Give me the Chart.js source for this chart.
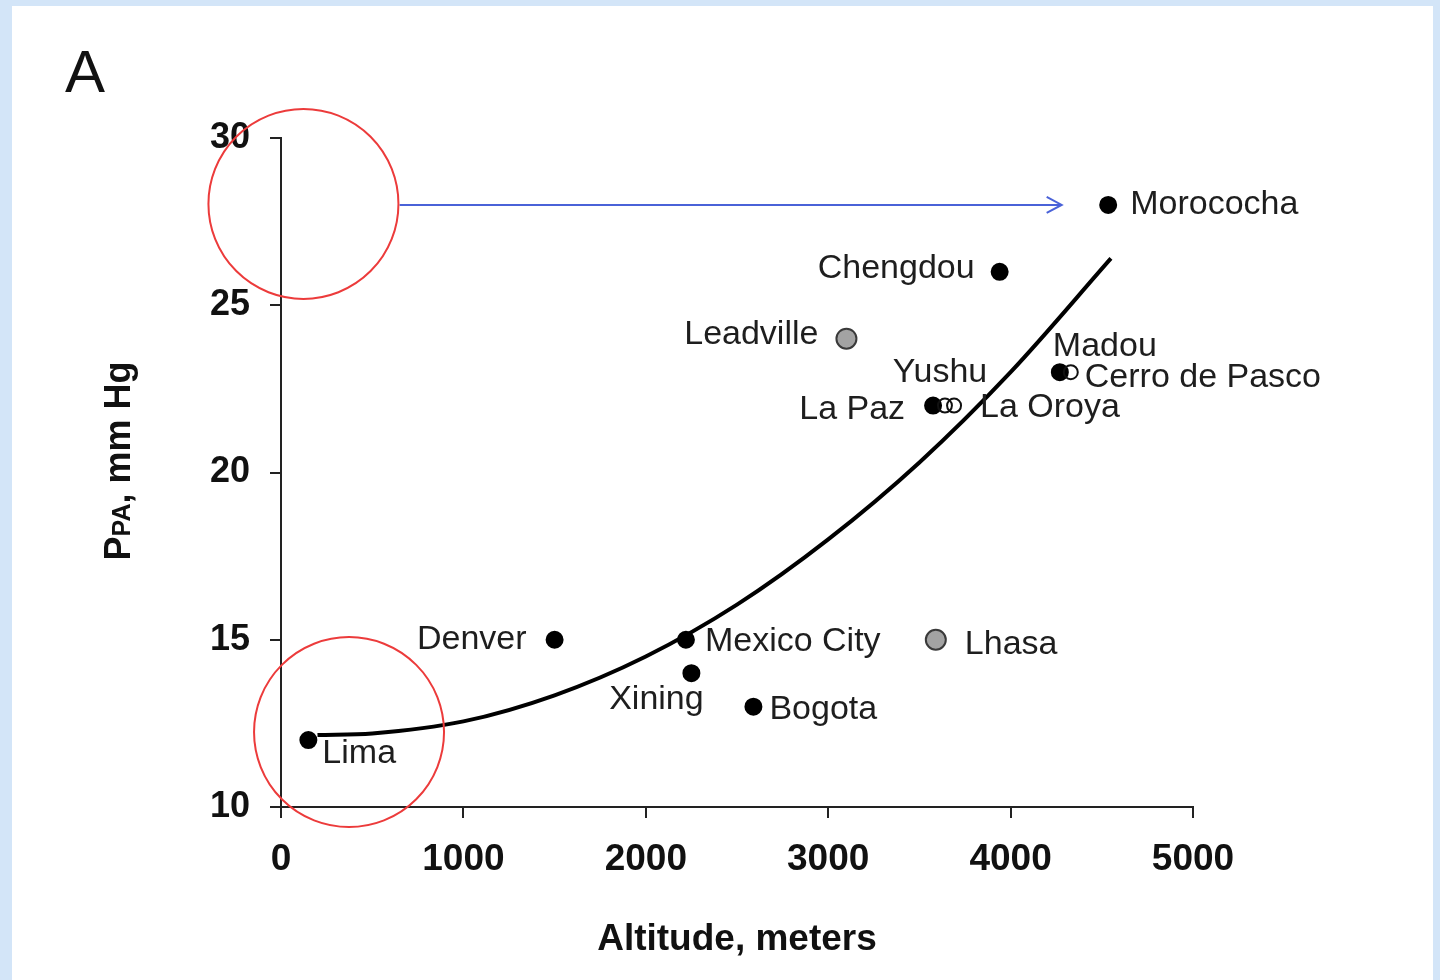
<!DOCTYPE html>
<html>
<head>
<meta charset="utf-8">
<script src="https://cdn.jsdelivr.net/npm/chart.js@4.4.1/dist/chart.umd.min.js"></script>
<style>
	html, body { margin: 0; padding: 0; background: #d3e5f8; }
	#frame { position: relative; width: 1440px; height: 980px; overflow: hidden; }
	#paper { position: absolute; left: 12px; top: 6px; width: 1421px; height: 980px; background: #fff; }
	#panel { position: absolute; left: 65px; top: 43px; font: 60px/58px "Liberation Sans", Arial, sans-serif; color: #111; }
	#wrap { position: absolute; left: 0; top: 0; width: 1440px; height: 980px; }
</style>
</head>
<body>
<div id="frame">
	<div id="paper"></div>
	<div id="panel">A</div>
	<div id="wrap"><canvas id="chart"></canvas></div>
</div>
<script>
// Values
var xTicks = [0, 1000, 2000, 3000, 4000, 5000];
var yTicks = [10, 15, 20, 25, 30];

var cityNames = ["Lima", "Denver", "Mexico City", "Xining", "Bogota", "Lhasa", "Leadville",
	"La Paz", "Yushu", "La Oroya", "Madou", "Cerro de Pasco", "Chengdou", "Morococha"];
var cityAltitude = [150, 1500, 2220, 2250, 2590, 3590, 3100, 3575, 3640, 3690, 4270, 4330, 3940, 4535];
var cityPPA = [12, 15, 15, 14, 13, 15, 24, 22, 22, 22, 23, 23, 26, 28];

// fitted curve, read at several altitudes
var fitAltitude = [200, 500, 1000, 1500, 2000, 2500, 3000, 3500, 4000, 4550];
var fitPPA = [12.15, 12.2, 12.56, 13.34, 14.5, 16.05, 18.0, 20.3, 23.0, 26.4];

// blue arrow towards Morococha
var arrowAltitude = [650, 4280];
var arrowPPA = [28, 28];

// red highlight circles
var circleAltitude = [123, 373];
var circlePPA = [28.03, 12.24];

// marker look per city (default is a black dot)
var markerStyle = { "Leadville": "gray", "Lhasa": "gray", "Yushu": "ring", "La Oroya": "ring", "Cerro de Pasco": "ring" };

// label placement relative to the point: dx, dy (px), alignment
var labelPlace = {
	"Lima": [14, 14, "left"],
	"Denver": [-28, 0, "right"],
	"Mexico City": [19, 2, "left"],
	"Xining": [-35, 26, "center"],
	"Bogota": [16, 3, "left"],
	"Lhasa": [29, 5, "left"],
	"Leadville": [-28, -4, "right"],
	"La Paz": [-28, 4, "right"],
	"Yushu": [-5, -33, "center"],
	"La Oroya": [26, 2, "left"],
	"Madou": [-7, -26, "left"],
	"Cerro de Pasco": [14, 5, "left"],
	"Chengdou": [-25, -3, "right"],
	"Morococha": [22, 0, "left"]
};

function pairs(xs, ys) {
	var out = [];
	for (var i = 0; i < xs.length; i++) out.push({ x: xs[i], y: ys[i] });
	return out;
}

var styleFill = { black: "#000", gray: "#a3a3a3", ring: "rgba(255,255,255,0)" };
var styleBorder = { black: "#000", gray: "#3a3a3a", ring: "#111" };
var styleRadius = { black: 8, gray: 10, ring: 7 };
function cityStyle(i) { return markerStyle[cityNames[i]] || "black"; }

var labelFont = '34px "Liberation Sans", Arial, sans-serif';

var annotations = {
	id: "annotations",
	afterDatasetsDraw: function(chart) {
		var ctx = chart.ctx;
		var xs = chart.scales.x, ys = chart.scales.y;

		// arrow head
		var ax = xs.getPixelForValue(arrowAltitude[1]);
		var ay = ys.getPixelForValue(arrowPPA[1]);
		ctx.save();
		ctx.strokeStyle = "#4a62d8";
		ctx.lineWidth = 2;
		ctx.beginPath();
		ctx.moveTo(ax - 15, ay - 8);
		ctx.lineTo(ax, ay);
		ctx.lineTo(ax - 15, ay + 8);
		ctx.stroke();
		ctx.restore();

		// city labels
		ctx.save();
		ctx.font = labelFont;
		ctx.fillStyle = "#1e1e1e";
		ctx.textBaseline = "middle";
		for (var i = 0; i < cityNames.length; i++) {
			var p = labelPlace[cityNames[i]];
			ctx.textAlign = p[2];
			ctx.fillText(cityNames[i], xs.getPixelForValue(cityAltitude[i]) + p[0], ys.getPixelForValue(cityPPA[i]) + p[1]);
		}
		ctx.restore();

		// y axis title with small "PA"
		var big = 'bold 36px "Liberation Sans", Arial, sans-serif';
		var small = 'bold 25px "Liberation Sans", Arial, sans-serif';
		var parts = [["P", big], ["PA", small], [", mm Hg", big]];
		ctx.save();
		var total = 0;
		for (var j = 0; j < parts.length; j++) { ctx.font = parts[j][1]; total += ctx.measureText(parts[j][0]).width; }
		ctx.translate(130, 461);
		ctx.rotate(-Math.PI / 2);
		ctx.fillStyle = "#111";
		ctx.textBaseline = "alphabetic";
		ctx.textAlign = "left";
		var pos = -total / 2;
		for (var k = 0; k < parts.length; k++) {
			ctx.font = parts[k][1];
			ctx.fillText(parts[k][0], pos, 0);
			pos += ctx.measureText(parts[k][0]).width;
		}
		ctx.restore();
	}
};

new Chart(document.getElementById("chart"), {
	type: "scatter",
	data: {
		datasets: [
			{
				data: pairs(circleAltitude, circlePPA),
				pointRadius: 95,
				pointBackgroundColor: "rgba(0,0,0,0)",
				pointBorderColor: "#ec3b3b",
				pointBorderWidth: 2,
				clip: false
			},
			{
				data: pairs(arrowAltitude, arrowPPA),
				showLine: true,
				borderColor: "#4a62d8",
				borderWidth: 2,
				pointRadius: 0,
				clip: false
			},
			{
				data: pairs(fitAltitude, fitPPA),
				showLine: true,
				borderColor: "#000",
				borderWidth: 4,
				cubicInterpolationMode: "monotone",
				pointRadius: 0
			},
			{
				data: pairs(cityAltitude, cityPPA),
				pointRadius: function(c) { return styleRadius[cityStyle(c.dataIndex)]; },
				pointBackgroundColor: function(c) { return styleFill[cityStyle(c.dataIndex)]; },
				pointBorderColor: function(c) { return styleBorder[cityStyle(c.dataIndex)]; },
				pointBorderWidth: 2,
				clip: false
			}
		]
	},
	options: {
		responsive: true,
		maintainAspectRatio: false,
		animation: false,
		events: [],
		layout: { padding: { top: 138, right: 247, left: 0, bottom: 0 } },
		plugins: { legend: { display: false }, tooltip: { enabled: false } },
		scales: {
			x: {
				type: "linear",
				min: 0,
				max: 5000,
				afterBuildTicks: function(s) { s.ticks = xTicks.map(function(v) { return { value: v }; }); },
				afterFit: function(s) { s.height = 173; },
				grid: { drawOnChartArea: false, tickLength: 11, color: "#222", lineWidth: 2 },
				border: { color: "#222", width: 2 },
				ticks: {
					color: "#111",
					padding: 20,
					maxRotation: 0,
					callback: function(v) { return String(v); },
					font: { family: "Liberation Sans", size: 37, weight: "bold" }
				},
				title: {
					display: true,
					text: "Altitude, meters",
					color: "#111",
					padding: { top: 0, bottom: 18 },
					font: { family: "Liberation Sans", size: 37, weight: "bold" }
				}
			},
			y: {
				type: "linear",
				min: 10,
				max: 30,
				afterBuildTicks: function(s) { s.ticks = yTicks.map(function(v) { return { value: v }; }); },
				afterFit: function(s) { s.width = 281; },
				grid: { drawOnChartArea: false, tickLength: 11, color: "#222", lineWidth: 2 },
				border: { color: "#222", width: 2 },
				ticks: { color: "#111", padding: 20, font: { family: "Liberation Sans", size: 36, weight: "bold" } }
			}
		}
	},
	plugins: [annotations]
});
</script>
</body>
</html>
